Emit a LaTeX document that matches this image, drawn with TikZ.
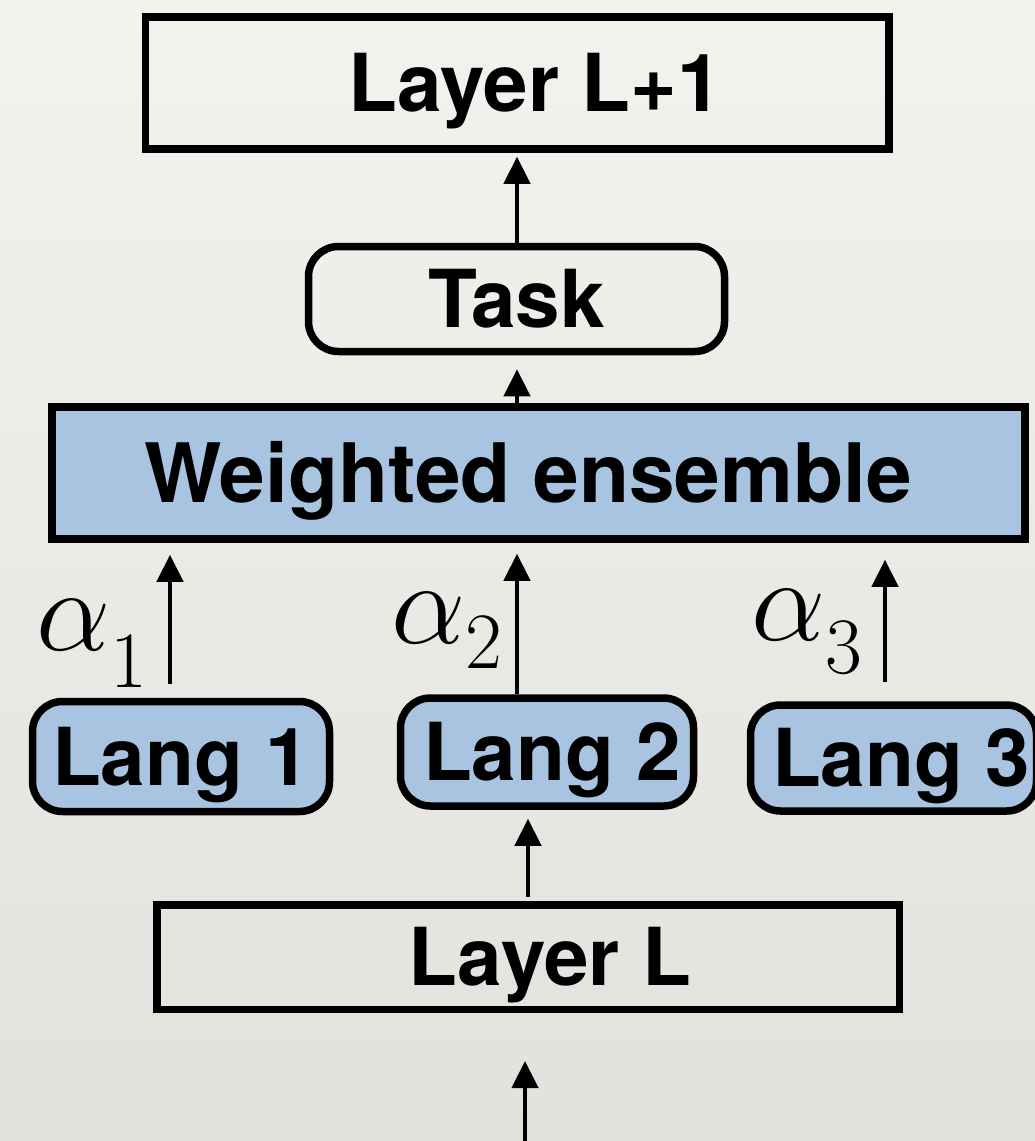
\RequirePackage{fix-cm}
\documentclass[tikz,border=0pt]{standalone}
\usepackage{fontspec}
\setmainfont{TeX Gyre Heros}
\usetikzlibrary{arrows.meta}
\definecolor{bgtop}{HTML}{F3F2EF}
\definecolor{bgbot}{HTML}{E2E1DD}
\definecolor{langblue}{HTML}{A8C4E0}
\newcommand{\alphalab}[2]{{\fontsize{118}{130}\selectfont$\alpha$}\raisebox{-#2pt}{\fontsize{80}{90}\selectfont$#1$}}
\tikzset{
  box/.style={draw=black, line width=7.5pt, inner sep=0pt, text height=57pt, text depth=0pt, font=\fontsize{80}{90}\selectfont\bfseries},
  rbox/.style={box, rounded corners=30pt},
  bluebox/.style={fill=langblue},
  arr/.style={line width=4.5pt, -{Triangle[length=27pt,width=26pt]}},
  alab/.style={inner sep=0pt, anchor=base west}
}
\begin{document}
\begin{tikzpicture}[x=1pt,y=-1pt]
\shade[top color=bgtop, bottom color=bgbot] (0,0) rectangle (1035,1141);
\useasboundingbox (0,0) rectangle (1035,1141);

\node[box, minimum width=743.5pt, minimum height=132pt] (l1) at (517,83) {\hspace*{36pt}Layer L+1};
\node[rbox, minimum width=416pt, minimum height=105pt] (task) at (516.5,299) {Task};
\node[box, bluebox, minimum width=973pt, minimum height=132pt, font=\fontsize{82}{90}\selectfont\bfseries, text height=59pt] (we) at (538.5,473) {\hspace*{-21pt}Weighted ensemble};
\node[rbox, bluebox, minimum width=297pt, minimum height=110pt] (g1) at (181,756.5) {Lang 1};
\node[rbox, bluebox, minimum width=293pt, minimum height=108pt] (g2) at (547,752) {\hspace*{10pt}Lang 2};
\node[rbox, bluebox, minimum width=286pt, minimum height=106pt] (g3) at (893.5,758) {\hspace*{15pt}Lang 3};
\node[box, minimum width=742.5pt, minimum height=104.5pt] (ll) at (528,957) {\hspace*{44pt}Layer L};

\node[alab] (a1) at (36,650) {\alphalab{1}{37}};
\node[alab] (a2) at (391,643) {\alphalab{2}{25}};
\node[alab] (a3) at (751,640) {\alphalab{3}{33}};

\coordinate (x1) at (170,0);
\coordinate (x2) at (517,0);
\coordinate (x3) at (885,0);
\coordinate (xl) at (528,0);
\coordinate (bot) at (525,1141);

\draw[arr, shorten >=4pt] (task.north -| x2) -- (l1.south -| x2);
\draw[arr, shorten >=14pt] (we.north -| x2) -- (task.south -| x2);
\draw[arr, shorten <=14pt, shorten >=12pt] (g1.north -| x1) -- (we.south -| x1);
\draw[arr, shorten >=11pt] (g2.north -| x2) -- (we.south -| x2);
\draw[arr, shorten <=19pt, shorten >=17pt] (g3.north -| x3) -- (we.south -| x3);
\draw[arr, shorten <=4pt, shorten >=9pt] (ll.north -| xl) -- (g2.south -| xl);
\draw[arr, shorten >=48pt] (bot) -- (ll.south -| bot);
\end{tikzpicture}
\end{document}
